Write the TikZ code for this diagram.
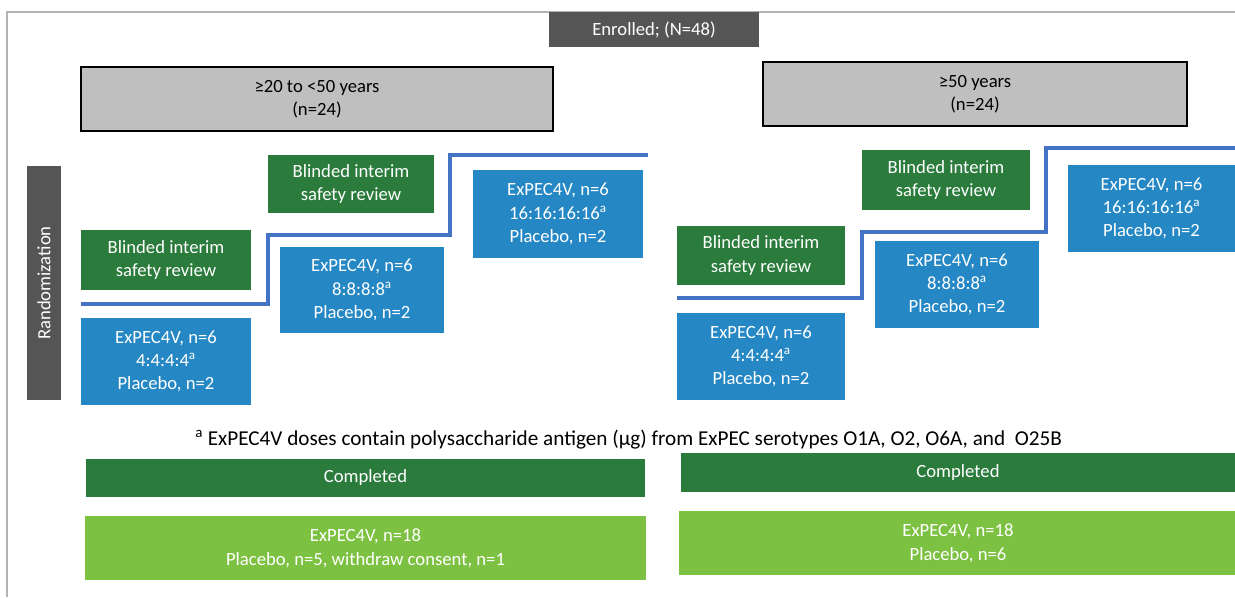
\documentclass[tikz,border=0pt]{standalone}
\usepackage{fontspec}
\setmainfont{Carlito}
\usetikzlibrary{positioning}

\definecolor{enrollgray}{HTML}{555555}
\definecolor{agegray}{HTML}{BFBFBF}
\definecolor{reviewgreen}{HTML}{2A7B3C}
\definecolor{armblue}{HTML}{2587C4}
\definecolor{stepblue}{HTML}{4472C4}
\definecolor{donegreen}{HTML}{7DC142}

\begin{document}
\begin{tikzpicture}[x=0.75pt,y=-0.75pt,
    every node/.style={font=\fontsize{14}{17.5}\selectfont, inner sep=0pt, align=center},
    boxsize/.style 2 args={minimum width=#1*0.75pt, minimum height=#2*0.75pt},
    darkbox/.style={fill=enrollgray, text=white},
    agebox/.style={fill=agegray, draw=black, line width=0.8pt},
    reviewbox/.style={fill=reviewgreen, text=white},
    armbox/.style={fill=armblue, text=white},
    donebox/.style={fill=donegreen, text=white},
    stepline/.style={stepblue, line width=2.3pt}]
    \useasboundingbox (0,0) rectangle (1235,597);
    % frame
    \draw[gray!60, line width=0.8pt] (7,597) -- (7,12) -- (1235,12);

    \node[darkbox, boxsize={210}{35}] (enrolled) at (654,29.5) {Enrolled; (N=48)};
    \node[agebox, boxsize={472}{64}] (young) at (317,99) {≥20 to <50 years\\(n=24)};
    \node[agebox, boxsize={424}{64}] (old) at (975,94) {≥50 years\\(n=24)};
    \node[darkbox, boxsize={234}{34}, rotate=90] (random) at (44,283) {Randomization};

    % younger cohort
    \node[reviewbox, boxsize={170}{60}] (youngreview1) at (166,260) {Blinded interim\\safety review};
    \node[reviewbox, boxsize={166}{58}] (youngreview2) at (351,184) {Blinded interim\\safety review};
    \node[armbox, boxsize={170}{87}] (younglow) at (166,361.5) {ExPEC4V, n=6\\4:4:4:4\textsuperscript{a}\\Placebo, n=2};
    \node[armbox, boxsize={164}{86}] (youngmid) at (362,290) {ExPEC4V, n=6\\8:8:8:8\textsuperscript{a}\\Placebo, n=2};
    \node[armbox, boxsize={170}{88}] (younghigh) at (558,214) {ExPEC4V, n=6\\16:16:16:16\textsuperscript{a}\\Placebo, n=2};
    \draw[stepline] (81,304) -- (268,304) -- (268,235) -- (450,235) -- (450,155) -- (648,155);

    % older cohort
    \node[reviewbox, boxsize={168}{59}] (oldreview1) at (761,255.5) {Blinded interim\\safety review};
    \node[reviewbox, boxsize={168}{60}] (oldreview2) at (946,180) {Blinded interim\\safety review};
    \node[armbox, boxsize={168}{87}] (oldlow) at (761,356.5) {ExPEC4V, n=6\\4:4:4:4\textsuperscript{a}\\Placebo, n=2};
    \node[armbox, boxsize={164}{87}] (oldmid) at (957,284.5) {ExPEC4V, n=6\\8:8:8:8\textsuperscript{a}\\Placebo, n=2};
    \node[armbox, boxsize={167}{87}] (oldhigh) at (1151.5,208.5) {ExPEC4V, n=6\\16:16:16:16\textsuperscript{a}\\Placebo, n=2};
    \draw[stepline] (677,298) -- (862,298) -- (862,232) -- (1046,232) -- (1046,148) -- (1235,148);

    \node[anchor=west, font=\fontsize{15.9}{19}\selectfont] (footnote) at (195,440) {\textsuperscript{a} ExPEC4V doses contain polysaccharide antigen (µg) from ExPEC serotypes O1A, O2, O6A, and\ \ O25B};

    % completion
    \node[reviewbox, boxsize={559}{38}] (youngdone) at (365.5,478) {Completed};
    \node[donebox, boxsize={561}{64}, below=14pt of youngdone] (youngresult) {ExPEC4V, n=18\\Placebo, n=5, withdraw consent, n=1};
    \node[reviewbox, boxsize={554}{39}] (olddone) at (958,472.5) {Completed};
    \node[donebox, boxsize={558}{64}, below=14pt of olddone] (oldresult) {ExPEC4V, n=18\\Placebo, n=6};
\end{tikzpicture}
\end{document}
